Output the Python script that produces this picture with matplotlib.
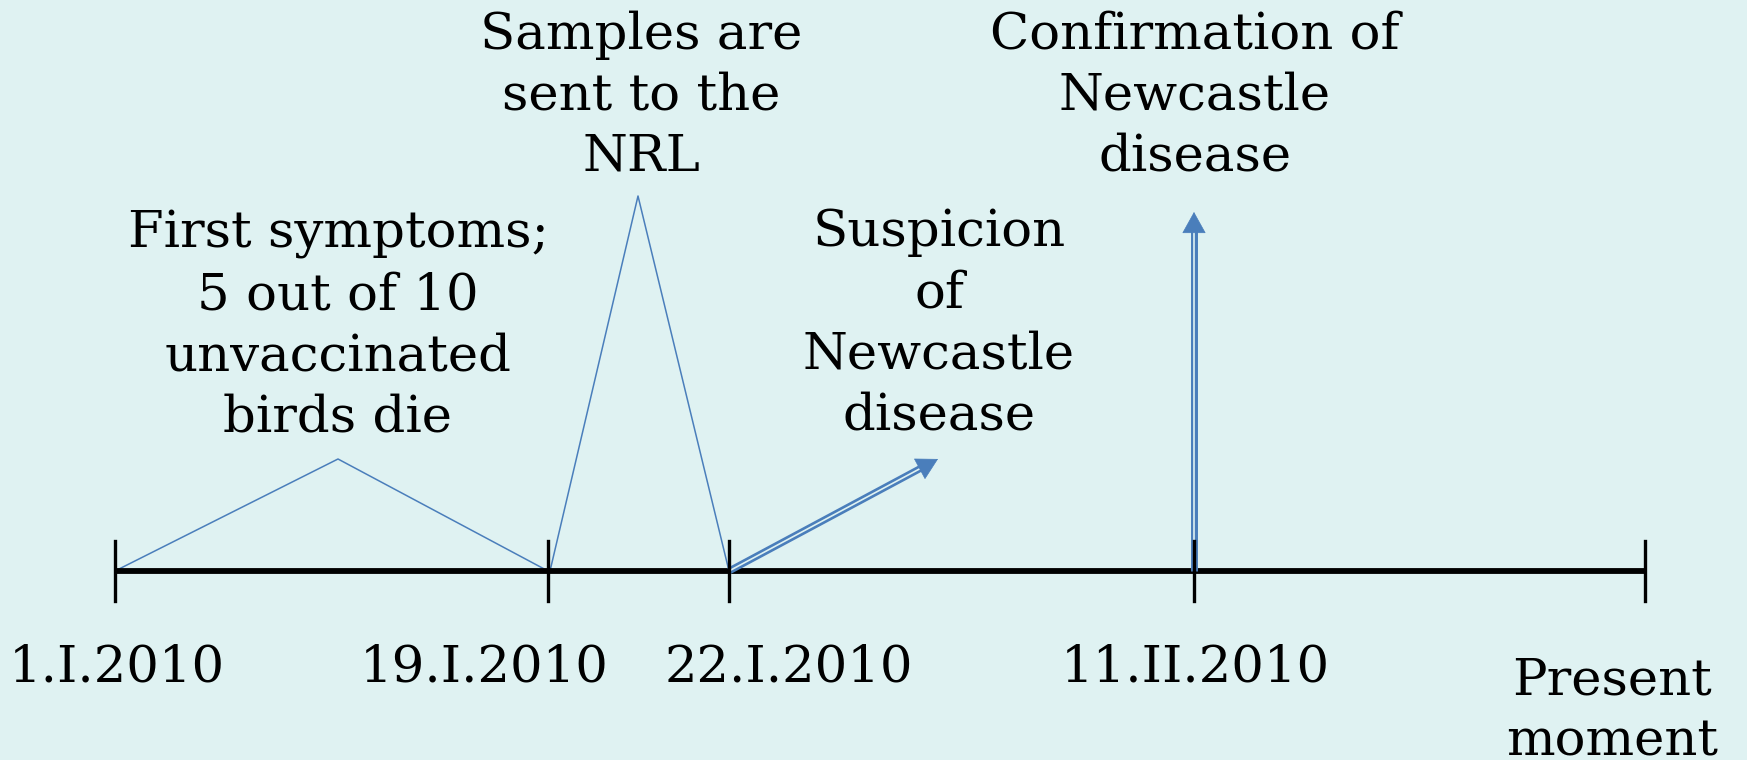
import matplotlib.pyplot as plt
from matplotlib import patheffects as pe

# timeline (positions, in pixel-like units)
tick_pos = [115, 548, 729, 1194, 1645]
date_labels = ["1.I.2010", "19.I.2010", "22.I.2010", "11.II.2010", "Present\nmoment"]
date_label_x = [117, 484, 789, 1195, 1612]
date_label_y = [668, 668, 668, 668, 711]

# events drawn above the line
event_texts = [
    "First symptoms;\n5 out of 10\nunvaccinated\nbirds die",
    "Samples are\nsent to the\nNRL",
    "Suspicion\nof\nNewcastle\ndisease",
    "Confirmation of\nNewcastle\ndisease",
]
event_text_x = [338, 641, 939, 1195]
event_text_y = [326, 96, 324, 96]

# span markers: (start, peak x, peak y, end)
spans = [(115, 338, 459, 548), (550, 638, 196, 729)]
# double arrows: (start x, end x, end y)
arrows = [(729, 938, 459), (1194, 1194, 212)]

BG = "#dff2f2"
BLUE = "#4a7ebb"
AXIS_Y = 571


def main() -> None:
    fig = plt.figure(figsize=(17.47, 7.60), dpi=100, facecolor=BG)
    ax = fig.add_axes([0, 0, 1, 1])
    ax.set_facecolor(BG)
    ax.set_xlim(0, 1747)
    ax.set_ylim(760, 0)
    ax.axis("off")

    font = dict(family="DejaVu Serif", fontsize=37, color="black")

    # main line and ticks
    ax.plot([tick_pos[0], tick_pos[-1]], [AXIS_Y, AXIS_Y], color="black", lw=4.2,
            solid_capstyle="butt", zorder=3)
    for x in tick_pos:
        ax.plot([x, x], [AXIS_Y - 30, AXIS_Y + 30], color="black", lw=2.4, zorder=6)

    # thin triangular span markers
    for x0, px, py, x1 in spans:
        ax.plot([x0, px, x1], [AXIS_Y, py, AXIS_Y], color=BLUE, lw=1.1, zorder=2)

    # double-line arrows
    for x0, x1, y1 in arrows:
        dx, dy = x1 - x0, y1 - AXIS_Y
        length = (dx ** 2 + dy ** 2) ** 0.5
        head = 16
        xs = x1 - dx / length * head
        ys = y1 - dy / length * head
        ax.plot([x0, xs], [AXIS_Y, ys], color=BG, lw=1.2, zorder=4,
                solid_capstyle="butt",
                path_effects=[pe.Stroke(linewidth=5.0, foreground=BLUE,
                                        capstyle="butt"), pe.Normal()])
        ax.annotate("", xy=(x1, y1), xytext=(xs, ys),
                    arrowprops=dict(arrowstyle="-|>,head_length=0.9,head_width=0.5",
                                    color=BLUE, lw=0.5, shrinkA=0, shrinkB=0,
                                    mutation_scale=16),
                    zorder=5)

    for txt, x, y in zip(event_texts, event_text_x, event_text_y):
        ax.text(x, y, txt, ha="center", va="center", linespacing=1.3, **font)

    for txt, x, y in zip(date_labels, date_label_x, date_label_y):
        ax.text(x, y, txt, ha="center", va="center", linespacing=1.3, **font)

    fig.savefig("out.png", dpi=100, facecolor=BG)


if __name__ == "__main__":
    main()
